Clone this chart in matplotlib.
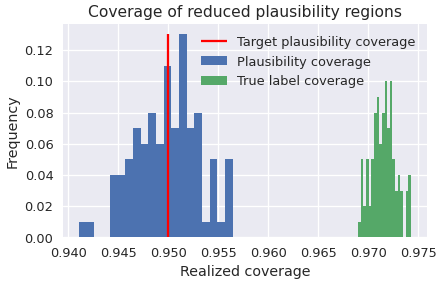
import numpy as np
import matplotlib
matplotlib.use("Agg")
from matplotlib import pyplot as plt

plt.style.use("seaborn-v0_8")
plt.rcParams["font.family"] = "DejaVu Sans"

target = 0.95

# plausibility coverage: 20 bins, frequency = count / n
plaus_range = (0.94107, 0.95644)
plaus_freq = [0.01, 0.01, 0.0, 0.0, 0.04, 0.04, 0.05, 0.07, 0.06, 0.08,
              0.06, 0.11, 0.07, 0.13, 0.07, 0.08, 0.01, 0.05, 0.01, 0.05]

# true label coverage: 20 bins
true_range = (0.96897, 0.97424)
true_freq = [0.01, 0.05, 0.02, 0.05, 0.02, 0.05, 0.08, 0.09, 0.06, 0.08,
             0.10, 0.07, 0.10, 0.05, 0.03, 0.04, 0.03, 0.0, 0.03, 0.04]


def hist_from_freq(ax, rng, freq, **kw):
    edges = np.linspace(rng[0], rng[1], len(freq) + 1)
    centers = (edges[:-1] + edges[1:]) / 2
    return ax.hist(centers, bins=edges, weights=freq, **kw)


fig, ax = plt.subplots(figsize=(4.7, 3.055), dpi=93)
fig.subplots_adjust(left=0.143, right=0.978, bottom=0.164, top=0.914)

ax.vlines(target, 0, max(plaus_freq), color="r", label="Target plausibility coverage")
hist_from_freq(ax, plaus_range, plaus_freq, color="#4C72B0", label="Plausibility coverage")
hist_from_freq(ax, true_range, true_freq, color="#55A868", label="True label coverage")

ax.set_title("Coverage of reduced plausibility regions")
ax.set_xlabel("Realized coverage")
ax.set_ylabel("Frequency")
ax.legend(loc="upper right", frameon=False)

fig.savefig("out.png", dpi=93)
